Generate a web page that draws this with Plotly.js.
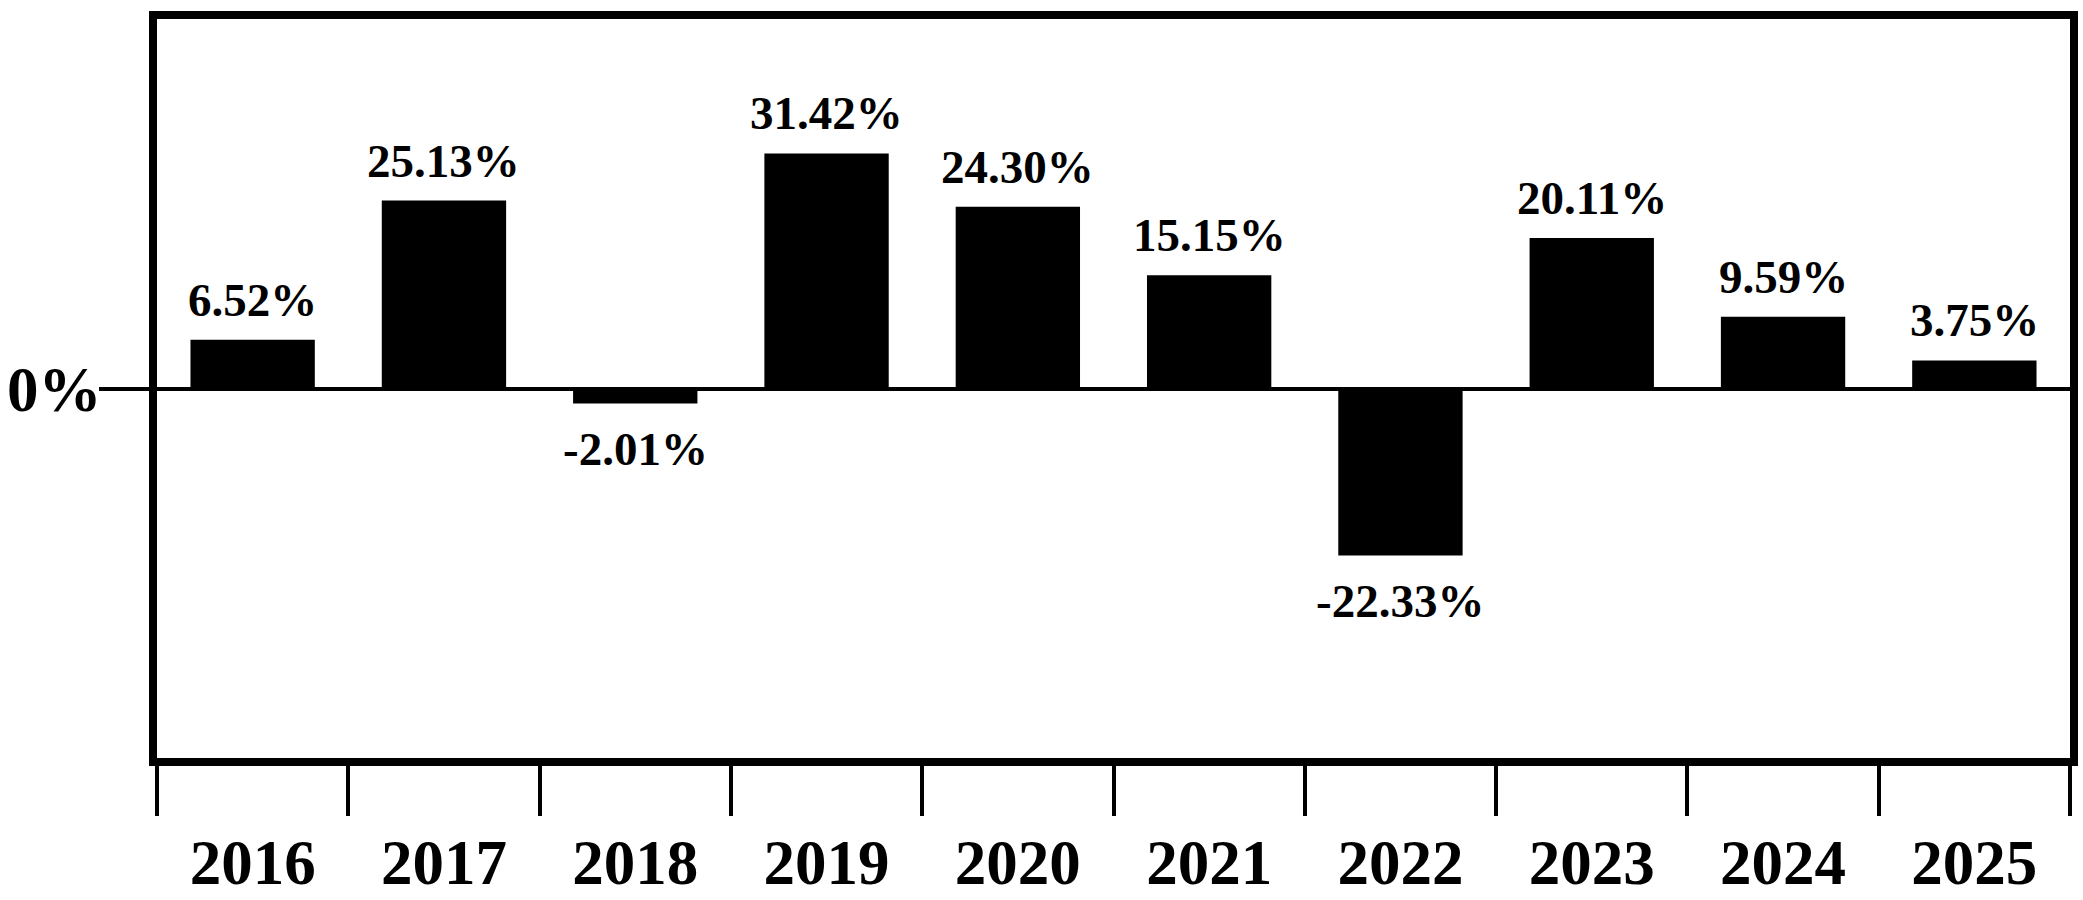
<!DOCTYPE html>
<html>
<head>
<meta charset="utf-8">
<script src="https://cdn.plot.ly/plotly-3.0.1.min.js"></script>
<style>html,body{margin:0;padding:0;background:#fff;}#chart{width:2083px;height:900px;}</style>
</head>
<body>
<div id="chart"></div>
<script>
const years = ['2016','2017','2018','2019','2020','2021','2022','2023','2024','2025'];
const returns = [6.52, 25.13, -2.01, 31.42, 24.30, 15.15, -22.33, 20.11, 9.59, 3.75];
const labels = ['6.52%','25.13%','-2.01%','31.42%','24.30%','15.15%','-22.33%','20.11%','9.59%','3.75%'];
const yTickVals = [0];
const yTickText = ['0%'];

const FONT = 'Liberation Serif, Times New Roman, serif';

const trace = {
  type: 'bar',
  x: years,
  y: returns,
  width: 0.65,
  marker: {color: '#000000', line: {width: 0}},
  hoverinfo: 'skip'
};

const annotations = years.map((yr, i) => ({
  x: i,
  y: returns[i],
  xref: 'x', yref: 'y',
  text: '<b>' + labels[i] + '</b>',
  showarrow: false,
  yanchor: returns[i] >= 0 ? 'bottom' : 'top',
  yshift: returns[i] >= 0 ? 12 : -17,
  font: {family: FONT, size: 47, color: '#000'}
}));

const layout = {
  width: 2083, height: 900,
  margin: {l: 157, r: 13, t: 19, b: 142, pad: 0},
  paper_bgcolor: '#fff', plot_bgcolor: '#fff',
  showlegend: false,
  bargap: 0.35,
  xaxis: {
    type: 'category',
    range: [-0.5, 9.5],
    showline: true, linecolor: '#000', linewidth: 8, mirror: true,
    ticks: 'outside', tickson: 'boundaries', ticklen: 50, tickwidth: 4, tickcolor: '#000',
    tickfont: {family: FONT, size: 63, color: '#000', weight: 'bold'},
    ticklabelstandoff: 42,
    showgrid: false, zeroline: false, fixedrange: true
  },
  yaxis: {
    range: [-49.4, 49.4],
    showline: true, linecolor: '#000', linewidth: 8, mirror: true,
    tickmode: 'array', tickvals: yTickVals, ticktext: yTickText,
    ticks: 'outside', ticklen: 50, tickwidth: 4, tickcolor: '#000',
    tickfont: {family: FONT, size: 63, color: '#000', weight: 'bold'},
    ticklabelstandoff: -15,
    showgrid: false,
    zeroline: true, zerolinecolor: '#000', zerolinewidth: 4,
    fixedrange: true
  },
  annotations: annotations
};

Plotly.newPlot('chart', [trace], layout, {displayModeBar: false, staticPlot: true});
</script>
</body>
</html>
